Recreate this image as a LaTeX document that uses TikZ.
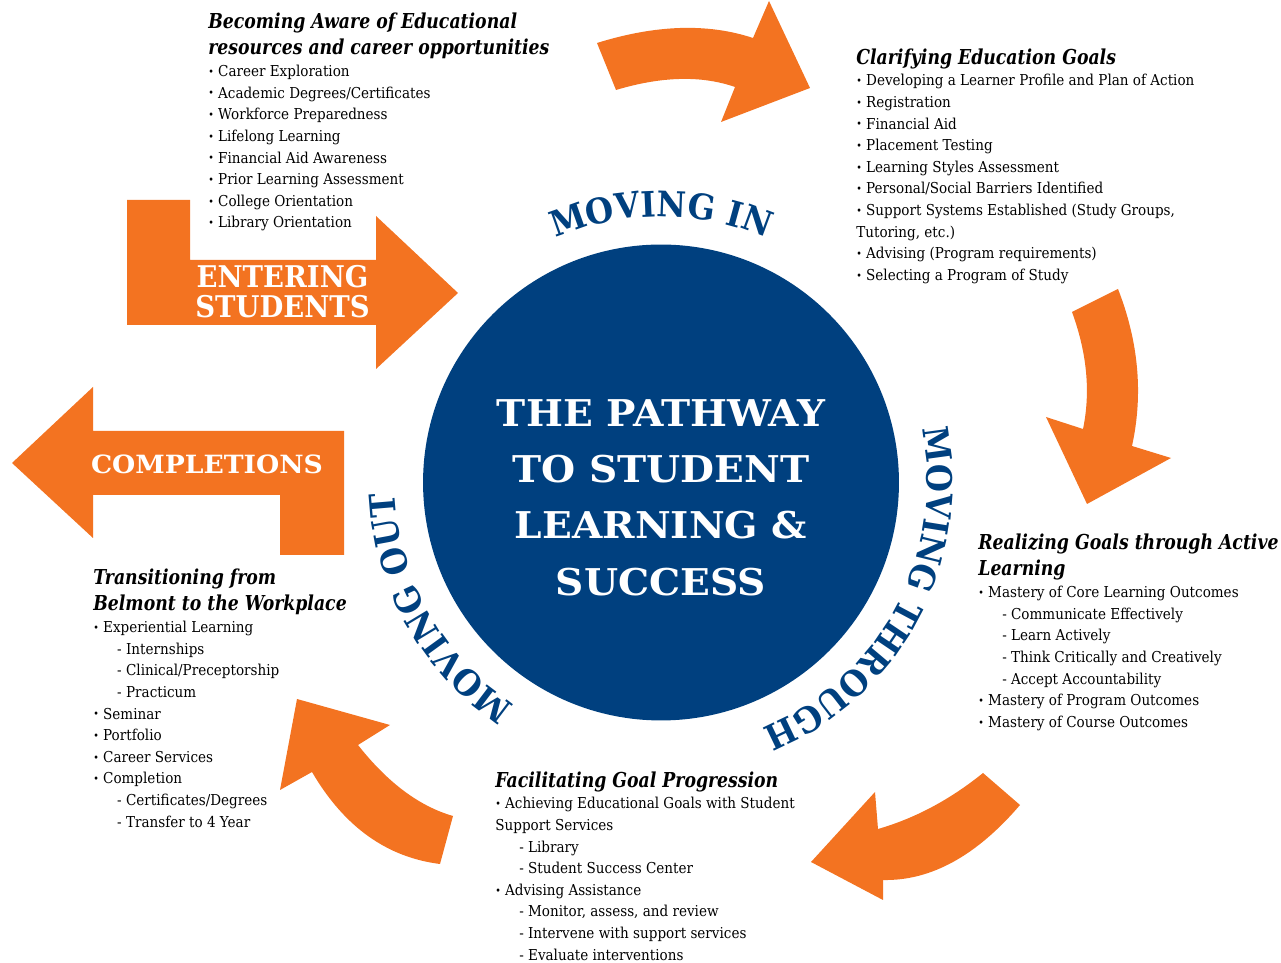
\documentclass[tikz,border=0pt]{standalone}
\usepackage{fontspec}
\setmainfont[FakeStretch=0.9]{DejaVu Serif}
\newfontfamily\headfont[FakeStretch=0.84]{DejaVu Serif}
\newfontfamily\capsfont[FakeStretch=0.92]{DejaVu Serif}
\newfontfamily\hubfont[FakeStretch=1.06]{DejaVu Serif}
\usetikzlibrary{decorations.text}
\definecolor{orng}{HTML}{F37321}
\definecolor{navy}{HTML}{00407F}
\tikzstyle{flow} = [fill=orng]
\tikzstyle{block} = [anchor=north west, align=left, inner sep=0pt, font=\fontsize{8.56}{12.3}\selectfont]
\tikzstyle{label} = [text=white, align=center, inner sep=0pt]
\tikzset{ring/.style={decorate, decoration={text along path, text align=center, text color=navy,
  text={|\capsfont\bfseries\fontsize{20}{20}\selectfont|#1}}}}
\newcommand{\hd}[1]{{\headfont\bfseries\itshape\fontsize{11.7}{12.3}\selectfont #1}}
\newcommand{\bul}{\raisebox{0.7pt}{\fontsize{6}{6}\selectfont•}\hspace{2.4pt}}
\newcommand{\subln}{\hspace*{13.6pt}- }

\begin{document}
\begin{tikzpicture}[x=0.02cm, y=0.02cm]
  \useasboundingbox (0,0) rectangle (1281,963);

  % centre disc
  \node [circle, fill=navy, minimum size=9.52cm, inner sep=0pt] (hub) at (661,480.5) {};
  \node [label, font=\hubfont\bfseries\fontsize{21}{32}\selectfont] (title) at (661,465.3) {THE PATHWAY\\TO STUDENT\\LEARNING \&\\SUCCESS};

  % words round the disc
  \path [ring={MOVING IN}] (hub.center) ++(130:266) arc[start angle=130, end angle=50, radius=266];
  \path [ring={MOVING THROUGH}] (hub.center) ++(22:266) arc[start angle=22, end angle=-78, radius=266];
  \path [ring={MOVING OUT}] (hub.center) ++(251:266) arc[start angle=251, end angle=168, radius=266];

  % curved arrows
  \fill [flow] (597,920) .. controls (655.7,938.3) and (707.7,940) .. (753,925) -- (769,962) -- (810,875) -- (721,841) -- (735,876) .. controls (701.3,887.7) and (661.7,886.7) .. (616,873) -- cycle;
  \fill [flow] (1118,674) .. controls (1138.7,621) and (1143.3,568.7) .. (1132,517) -- (1171,505) -- (1087,459) -- (1046,546) -- (1083,534) .. controls (1090.7,571) and (1087,610) .. (1072,651) -- cycle;
  \fill [flow] (1020,158) .. controls (976.3,107) and (930.7,82) .. (883,83) -- (883,63) -- (811,101) -- (875,171) -- (878,134) .. controls (915,144.7) and (950,163.3) .. (983,190) -- cycle;
  \fill [flow] (440,99) .. controls (386.7,105.7) and (344,136.3) .. (312,191) -- (280,173) -- (297,264) -- (390,238) -- (358,218) .. controls (387.7,180.3) and (419.3,156.7) .. (453,147) -- cycle;

  % block arrows
  \fill [flow] (127,763) -- (190,763) -- (190,703) -- (376,703) -- (376,747) -- (458,670) -- (376,594) -- (376,638) -- (127,638) -- cycle;
  \fill [flow] (12,500) -- (93,576) -- (93,532) -- (344,532) -- (344,408) -- (280,408) -- (280,468) -- (93,468) -- (93,425) -- cycle;

  \node [label, font=\capsfont\bfseries\fontsize{17}{17}\selectfont] (entering) at (282.5,671.5) {ENTERING\\STUDENTS};
  \node [label, font=\hubfont\bfseries\fontsize{14.3}{14.3}\selectfont] (completions) at (207,498.5) {COMPLETIONS};

  % stage lists
  \node [block] (aware) at (208,950.7) {\hd{Becoming Aware of Educational}\\[2.9pt]
    \hd{resources and career opportunities}\\
    \bul Career Exploration\\
    \bul Academic Degrees/Certificates\\
    \bul Workforce Preparedness\\
    \bul Lifelong Learning\\
    \bul Financial Aid Awareness\\
    \bul Prior Learning Assessment\\
    \bul College Orientation\\
    \bul Library Orientation};

  \node [block] (clarify) at (856,914.7) {\hd{Clarifying Education Goals}\\
    \bul Developing a Learner Profile and Plan of Action\\
    \bul Registration\\
    \bul Financial Aid\\
    \bul Placement Testing\\
    \bul Learning Styles Assessment\\
    \bul Personal/Social Barriers Identified\\
    \bul Support Systems Established (Study Groups,\\
    Tutoring, etc.)\\
    \bul Advising (Program requirements)\\
    \bul Selecting a Program of Study};

  \node [block] (realize) at (978,429.7) {\hd{Realizing Goals through Active}\\[2.9pt]
    \hd{Learning}\\
    \bul Mastery of Core Learning Outcomes\\
    \subln Communicate Effectively\\
    \subln Learn Actively\\
    \subln Think Critically and Creatively\\
    \subln Accept Accountability\\
    \bul Mastery of Program Outcomes\\
    \bul Mastery of Course Outcomes};

  \node [block] (progress) at (495,191.7) {\hd{Facilitating Goal Progression}\\
    \bul Achieving Educational Goals with Student\\
    Support Services\\
    \subln Library\\
    \subln Student Success Center\\
    \bul Advising Assistance\\
    \subln Monitor, assess, and review\\
    \subln Intervene with support services\\
    \subln Evaluate interventions};

  \node [block] (transition) at (93,394.7) {\hd{Transitioning from}\\[2.9pt]
    \hd{Belmont to the Workplace}\\
    \bul Experiential Learning\\
    \subln Internships\\
    \subln Clinical/Preceptorship\\
    \subln Practicum\\
    \bul Seminar\\
    \bul Portfolio\\
    \bul Career Services\\
    \bul Completion\\
    \subln Certificates/Degrees\\
    \subln Transfer to 4 Year};
\end{tikzpicture}
\end{document}
